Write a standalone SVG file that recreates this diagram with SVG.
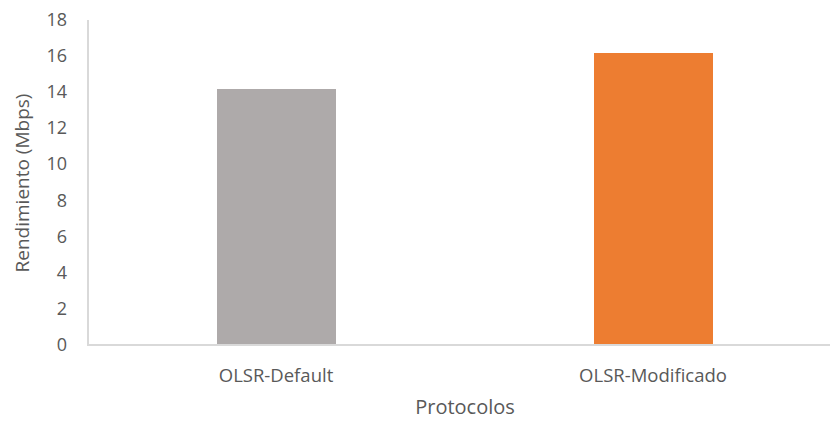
<svg xmlns="http://www.w3.org/2000/svg" width="830" height="421" viewBox="0 0 830 421">
  <style>
    text { font-family: "Open Sans", "Liberation Sans", sans-serif; fill: #595959; }
    .tick { font-size: 18px; text-anchor: end; }
    .cat { font-size: 18.5px; text-anchor: middle; }
    .title { font-size: 19px; text-anchor: middle; }
    .axis { stroke: #d9d9d9; stroke-width: 2; fill: none; }
  </style>
  <rect width="830" height="421" fill="#ffffff"/>
  <!-- axes -->
  <g id="axes">
    <line class="axis" x1="88" y1="20" x2="88" y2="345"/>
    <line class="axis" x1="87" y1="345" x2="830" y2="345"/>
  </g>
  <!-- value axis labels -->
  <g id="y-ticks">
    <text class="tick" x="67" y="351">0</text>
    <text class="tick" x="67" y="315">2</text>
    <text class="tick" x="67" y="279">4</text>
    <text class="tick" x="67" y="243">6</text>
    <text class="tick" x="67" y="207">8</text>
    <text class="tick" x="67" y="170">10</text>
    <text class="tick" x="67" y="134">12</text>
    <text class="tick" x="67" y="98">14</text>
    <text class="tick" x="67" y="62">16</text>
    <text class="tick" x="67" y="26">18</text>
  </g>
  <!-- bars -->
  <g id="bar-default">
    <rect x="217" y="89" width="119" height="255" fill="#aeaaaa"/>
  </g>
  <g id="bar-modificado">
    <rect x="594" y="53" width="119" height="291" fill="#ed7d31"/>
  </g>
  <!-- category labels -->
  <g id="x-labels">
    <text class="cat" x="276" y="382">OLSR-Default</text>
    <text class="cat" x="653" y="382">OLSR-Modificado</text>
  </g>
  <!-- axis titles -->
  <text class="title" x="465" y="414" style="font-size:20px">Protocolos</text>
  <text class="title" transform="translate(29 183) rotate(-90)">Rendimiento (Mbps)</text>
</svg>
